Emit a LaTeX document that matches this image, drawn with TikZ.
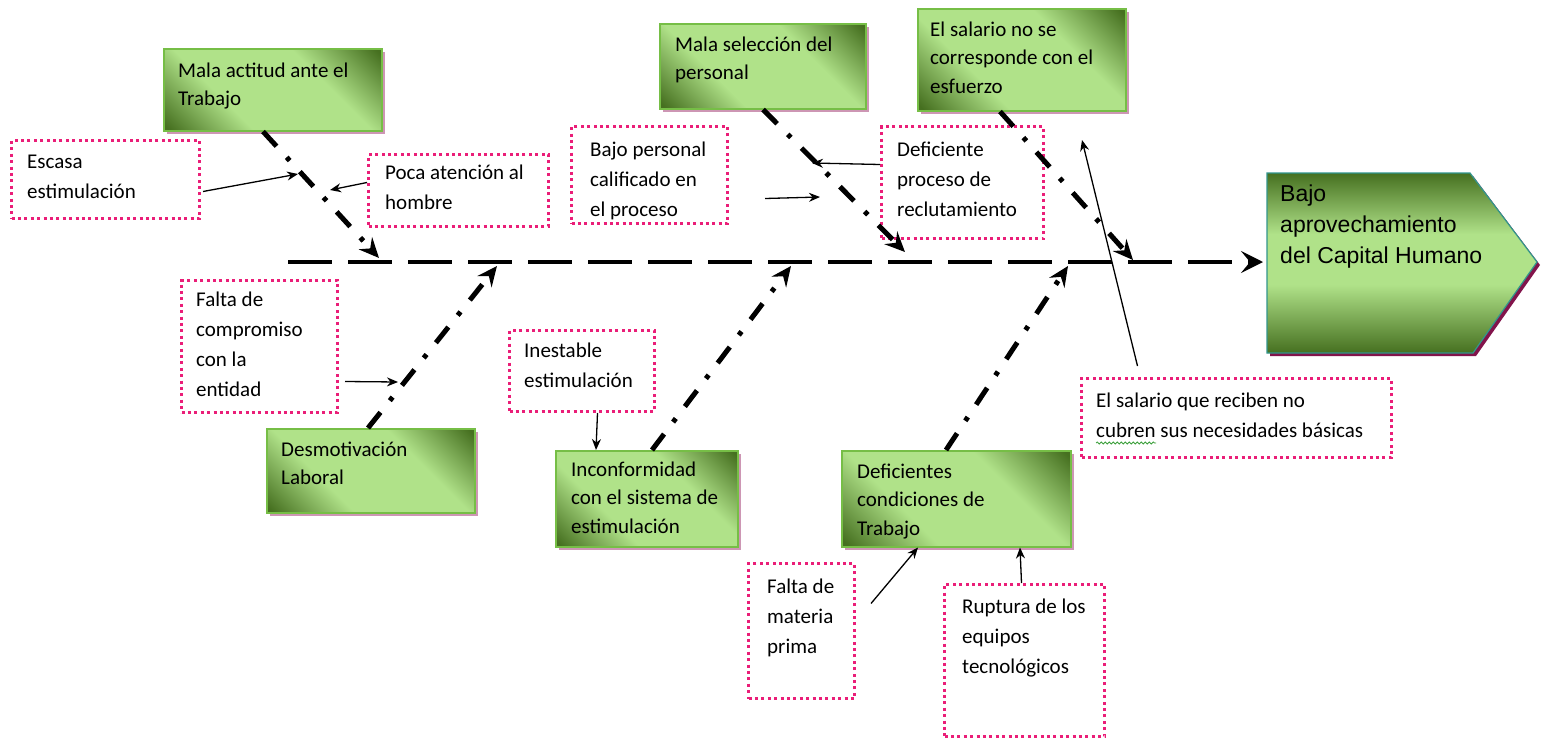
\documentclass[tikz,border=0pt]{standalone}
\usepackage{fontspec}
\setmainfont{Carlito}
\newfontfamily\headfont{Liberation Sans}
\usetikzlibrary{arrows.meta,calc,shadows,decorations.pathmorphing}
\definecolor{gdark}{RGB}{70,112,32}
\definecolor{glight}{RGB}{176,226,137}
\definecolor{gborder}{RGB}{118,190,70}
\definecolor{gshadow}{RGB}{205,150,180}
\definecolor{pinkdot}{RGB}{234,30,120}
\definecolor{hborder}{RGB}{50,150,140}
\definecolor{hshadow}{RGB}{130,20,75}
\definecolor{squig}{RGB}{60,160,60}
\pgfdeclarehorizontalshading{gshade}{100bp}{color(0bp)=(gdark); color(16bp)=(gdark); color(36bp)=(glight); color(64bp)=(glight); color(84bp)=(gdark); color(100bp)=(gdark)}
\pgfdeclareverticalshading{hshade}{100bp}{color(0bp)=(gdark); color(25bp)=(gdark); color(44bp)=(glight); color(58bp)=(glight); color(75bp)=(gdark); color(100bp)=(gdark)}
\tikzset{
  gbox/.style={draw=gborder, line width=1.5pt, shading=gshade, shading angle=45, inner sep=0pt, anchor=north west,
    general shadow={fill=gshadow, shadow xshift=3pt, shadow yshift=-3pt}},
  pbox/.style={draw=pinkdot, line width=3pt, dash pattern=on 3pt off 3.4pt, inner sep=0pt, anchor=north west},
  gtxt/.style={inner sep=0pt, anchor=base west, align=left, font=\fontsize{21}{28.5}\selectfont},
  ptxt/.style={inner sep=0pt, anchor=base west, align=left, font=\fontsize{21}{30}\selectfont},
  htxt/.style={inner sep=0pt, anchor=base west, align=left, font=\headfont\fontsize{23}{31}\selectfont},
  branch/.style={line width=5pt, dash pattern=on 20pt off 15pt on 4.5pt off 15pt, -{Stealth[length=20pt,width=18pt,inset=7pt]}},
  spine/.style={line width=4pt, dash pattern=on 44pt off 16pt, -{Stealth[length=22pt,width=22pt,inset=9pt]}},
  thin/.style={line width=1.3pt, -{Stealth[length=11pt,width=9pt]}},
}
\begin{document}
\begin{tikzpicture}[x=1pt,y=-1pt]
\useasboundingbox (0,0) rectangle (1547,739);
\fill[white] (0,0) rectangle (1547,739);

% head (text anchors are at the baseline of the last line)
\fill[hshadow] (1270,176) -- (1473,176) -- (1540,265) -- (1476,356) -- (1270,356) -- cycle;
\shadedraw[shading=hshade, draw=hborder, line width=1.2pt] (1267,173) -- (1470,173) -- (1537,262) -- (1473,353) -- (1267,353) -- cycle;
\node[htxt] (head) at (1280,263) {Bajo\\aprovechamiento\\del Capital Humano};

% green boxes
\node[gbox, minimum width=218, minimum height=82] (g1) at (163,48) {};
\node[gtxt] (g1t) at (178,105.5) {Mala actitud ante el\\Trabajo};
\node[gbox, minimum width=206, minimum height=85] (g2) at (659,23) {};
\node[gtxt] (g2t) at (675,79.5) {Mala selección del\\personal};
\node[gbox, minimum width=208, minimum height=102] (g3) at (917,8) {};
\node[gtxt] (g3t) at (930,93) {El salario no se\\corresponde con el\\esfuerzo};
\node[gbox, minimum width=208, minimum height=84] (g4) at (266,428) {};
\node[gtxt] (g4t) at (281,484.5) {Desmotivación\\Laboral};
\node[gbox, minimum width=182, minimum height=96] (g5) at (555,450) {};
\node[gtxt] (g5t) at (571,533) {Inconformidad\\con el sistema de\\estimulación};
\node[gbox, minimum width=229, minimum height=96] (g6) at (841,450) {};
\node[gtxt] (g6t) at (857,535) {Deficientes\\condiciones de\\Trabajo};

% pink boxes
\node[pbox, minimum width=188, minimum height=78] (a) at (10,139) {};
\node[ptxt] (at) at (27,198) {Escasa\\estimulación};
\node[pbox, minimum width=180, minimum height=72] (b) at (367,153) {};
\node[ptxt] (bt) at (385,209) {Poca atención al\\hombre};
\node[pbox, minimum width=156, minimum height=132] (c) at (180,279) {};
\node[ptxt] (ct) at (196,396) {Falta de\\compromiso\\con la\\entidad};
\node[pbox, minimum width=156, minimum height=97] (d) at (570,125) {};
\node[ptxt] (dt) at (590,216) {Bajo personal\\calificado en\\el proceso};
\node[pbox, minimum width=162, minimum height=112] (e) at (880,125) {};
\node[ptxt] (et) at (897,216) {Deficiente\\proceso de\\reclutamiento};
\node[pbox, minimum width=145, minimum height=81] (f) at (508,329) {};
\node[ptxt] (ft) at (524,387) {Inestable\\estimulación};
\node[pbox, minimum width=310, minimum height=79] (s) at (1080,377) {};
\node[ptxt] (st) at (1096,437) {El salario que reciben no\\cubren sus necesidades básicas};
\node[pbox, minimum width=106, minimum height=135] (m) at (747,562) {};
\node[ptxt] (mt) at (767,653) {Falta de\\materia\\prima};
\node[pbox, minimum width=160, minimum height=152] (r) at (943,583) {};
\node[ptxt] (rt) at (962,673) {Ruptura de los\\equipos\\tecnológicos};

% spell-check squiggle
\coordinate (sq1) at (1096,443);
\coordinate (sq2) at (1156,443);
\draw[squig, line width=0.8pt, decorate, decoration={snake, amplitude=1pt, segment length=4pt}] (sq1) -- (sq2);

% spine
\coordinate (sp0) at (288,262);
\coordinate (hW) at (1267,262);
\draw[spine, shorten >=4pt] (sp0) -- (hW);

% branches
\coordinate (b1s) at ($(g1.south west)+(100,0)$);
\coordinate (b1e) at (379,258);
\coordinate (b2s) at ($(g2.south west)+(104,0)$);
\coordinate (b2e) at (905,252);
\coordinate (b3s) at ($(g3.south west)+(83,0)$);
\coordinate (b3e) at (1133,260);
\coordinate (b4s) at ($(g4.north west)+(102,0)$);
\coordinate (b4e) at (497,266);
\coordinate (b5s) at ($(g5.north west)+(97,0)$);
\coordinate (b5e) at (791,266);
\coordinate (b6s) at ($(g6.north west)+(105,0)$);
\coordinate (b6e) at (1068,266);
\draw[branch] (b1s) -- (b1e);
\draw[branch] (b2s) -- (b2e);
\draw[branch] (b3s) -- (b3e);
\draw[branch] (b4s) -- (b4e);
\draw[branch] (b5s) -- (b5e);
\draw[branch] (b6s) -- (b6e);

% thin arrows
\coordinate (ta) at (298,174);
\coordinate (tb) at (330,190);
\coordinate (tc) at (398,382);
\coordinate (td) at (820,197);
\coordinate (te) at (812,163);
\coordinate (ts) at (1082,140);
\coordinate (sS) at ($(s.north)+(-99,-11)$);
\coordinate (cS) at ($(c.east)+(6,35)$);
\coordinate (dS) at ($(d.east)+(36,23.5)$);
\coordinate (mS) at ($(m.east)+(15,-27.5)$);
\draw[thin] ($(a.east)+(2,12)$) -- (ta);
\draw[thin] ($(b.west)+(0,-8)$) -- (tb);
\draw[thin] (cS) -- (tc);
\draw[thin] (dS) -- (td);
\draw[thin] ($(e.west)+(0,-18)$) -- (te);
\draw[thin] (sS) -- (ts);
\draw[thin] ($(f.south)+(15.5,0)$) -- ($(g5.north west)+(41,0)$);
\draw[thin] (mS) -- ($(g6.south west)+(77,0)$);
\draw[thin] ($(r.north)+(-3,0)$) -- ($(g6.south west)+(179,0)$);
\end{tikzpicture}
\end{document}
